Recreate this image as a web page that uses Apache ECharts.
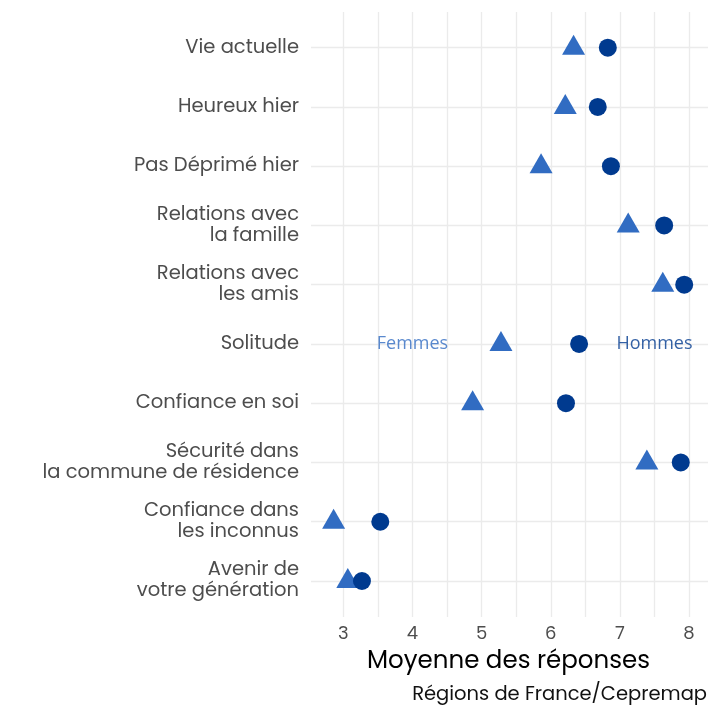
<!DOCTYPE html>
<html><head><meta charset="utf-8">
<script src="https://cdn.jsdelivr.net/npm/echarts@6/dist/echarts.min.js"></script>
<style>html,body{margin:0;padding:0;background:#fff}#c{width:720px;height:720px}</style>
</head><body><div id="c"></div>
<script>
const categories = ['Vie actuelle','Heureux hier','Pas Déprimé hier','Relations avec\nla famille','Relations avec\nles amis','Solitude','Confiance en soi','Sécurité dans\nla commune de résidence','Confiance dans\nles inconnus','Avenir de\nvotre génération'];
const femmes = [6.33,6.21,5.86,7.12,7.62,5.28,4.87,7.39,2.86,3.065];
const hommes = [6.825,6.68,6.87,7.64,7.93,6.41,6.22,7.88,3.535,3.27];
const xTicks = [3,4,5,6,7,8];
const annotLabels = ['Femmes','Hommes'];
const annotX = [4,7.5];
const annotCat = 'Solitude';

const colF = '#316cc2', colH = '#003a8f';
const gridCol = '#ebebeb';
const labelFont = 'Poppins, "Noto Sans", sans-serif';

const chart = echarts.init(document.getElementById('c'), null, {renderer:'canvas'});
chart.setOption({
  animation:false,
  backgroundColor:'#fff',
  grid:[
    {left:343.3, right:30.95, top:12, bottom:103},
    {left:311, right:12, top:47.7, bottom:139}
  ],
  xAxis:[
    {gridIndex:0, type:'value', min:3, max:8, interval:0.5,
     axisLine:{show:false}, axisTick:{show:false},
     axisLabel:{margin:8, color:'#4d4d4d', fontSize:18, fontFamily:labelFont,
       formatter:v => xTicks.includes(v) ? String(v) : ''},
     splitLine:{show:true, lineStyle:{color:gridCol, width:1.3}}},
    {gridIndex:1, type:'value', min:2.533, max:8.274, show:false, splitLine:{show:false}}
  ],
  yAxis:[
    {gridIndex:0, type:'value', show:false, splitLine:{show:false}},
    {gridIndex:1, type:'category', data:categories, inverse:true, boundaryGap:false,
     axisLine:{show:false}, axisTick:{show:false},
     axisLabel:{interval:0, margin:12, color:'#4d4d4d', fontSize:19.5, lineHeight:21, fontFamily:labelFont, align:'right'},
     splitLine:{show:true, interval:0, lineStyle:{color:gridCol, width:1.3}}}
  ],
  graphic:[
    {type:'text', style:{x:508.5, y:662, text:'Moyenne des réponses', textAlign:'center', textVerticalAlign:'middle', fill:'#000', font:'24.5px ' + labelFont}},
    {type:'text', style:{x:707, y:695, text:'Régions de France/Cepremap', textAlign:'right', textVerticalAlign:'middle', fill:'#111', font:'19.5px ' + labelFont}}
  ],
  series:[
    {type:'scatter', xAxisIndex:0, yAxisIndex:0, data:[], silent:true},
    {type:'scatter', name:'Femmes', xAxisIndex:1, yAxisIndex:1, symbol:'triangle', symbolSize:[23,20], symbolOffset:[0,-3],
     itemStyle:{color:colF, opacity:1}, data:femmes.map((v,i)=>[v, categories[i]]), z:3},
    {type:'scatter', name:'Hommes', xAxisIndex:1, yAxisIndex:1, symbol:'circle', symbolSize:18,
     itemStyle:{color:colH, opacity:1}, data:hommes.map((v,i)=>[v, categories[i]]), z:4},
    {type:'scatter', xAxisIndex:1, yAxisIndex:1, symbolSize:0, silent:true, z:5,
     data:annotLabels.map((t,i)=>({value:[annotX[i], annotCat], name:t,
       label:{show:true, position:'inside', formatter:t, color: i===0 ? colF : colH,
         fontSize:18, fontFamily:'"Open Sans", sans-serif'}}))}
  ]
});
</script></body></html>
